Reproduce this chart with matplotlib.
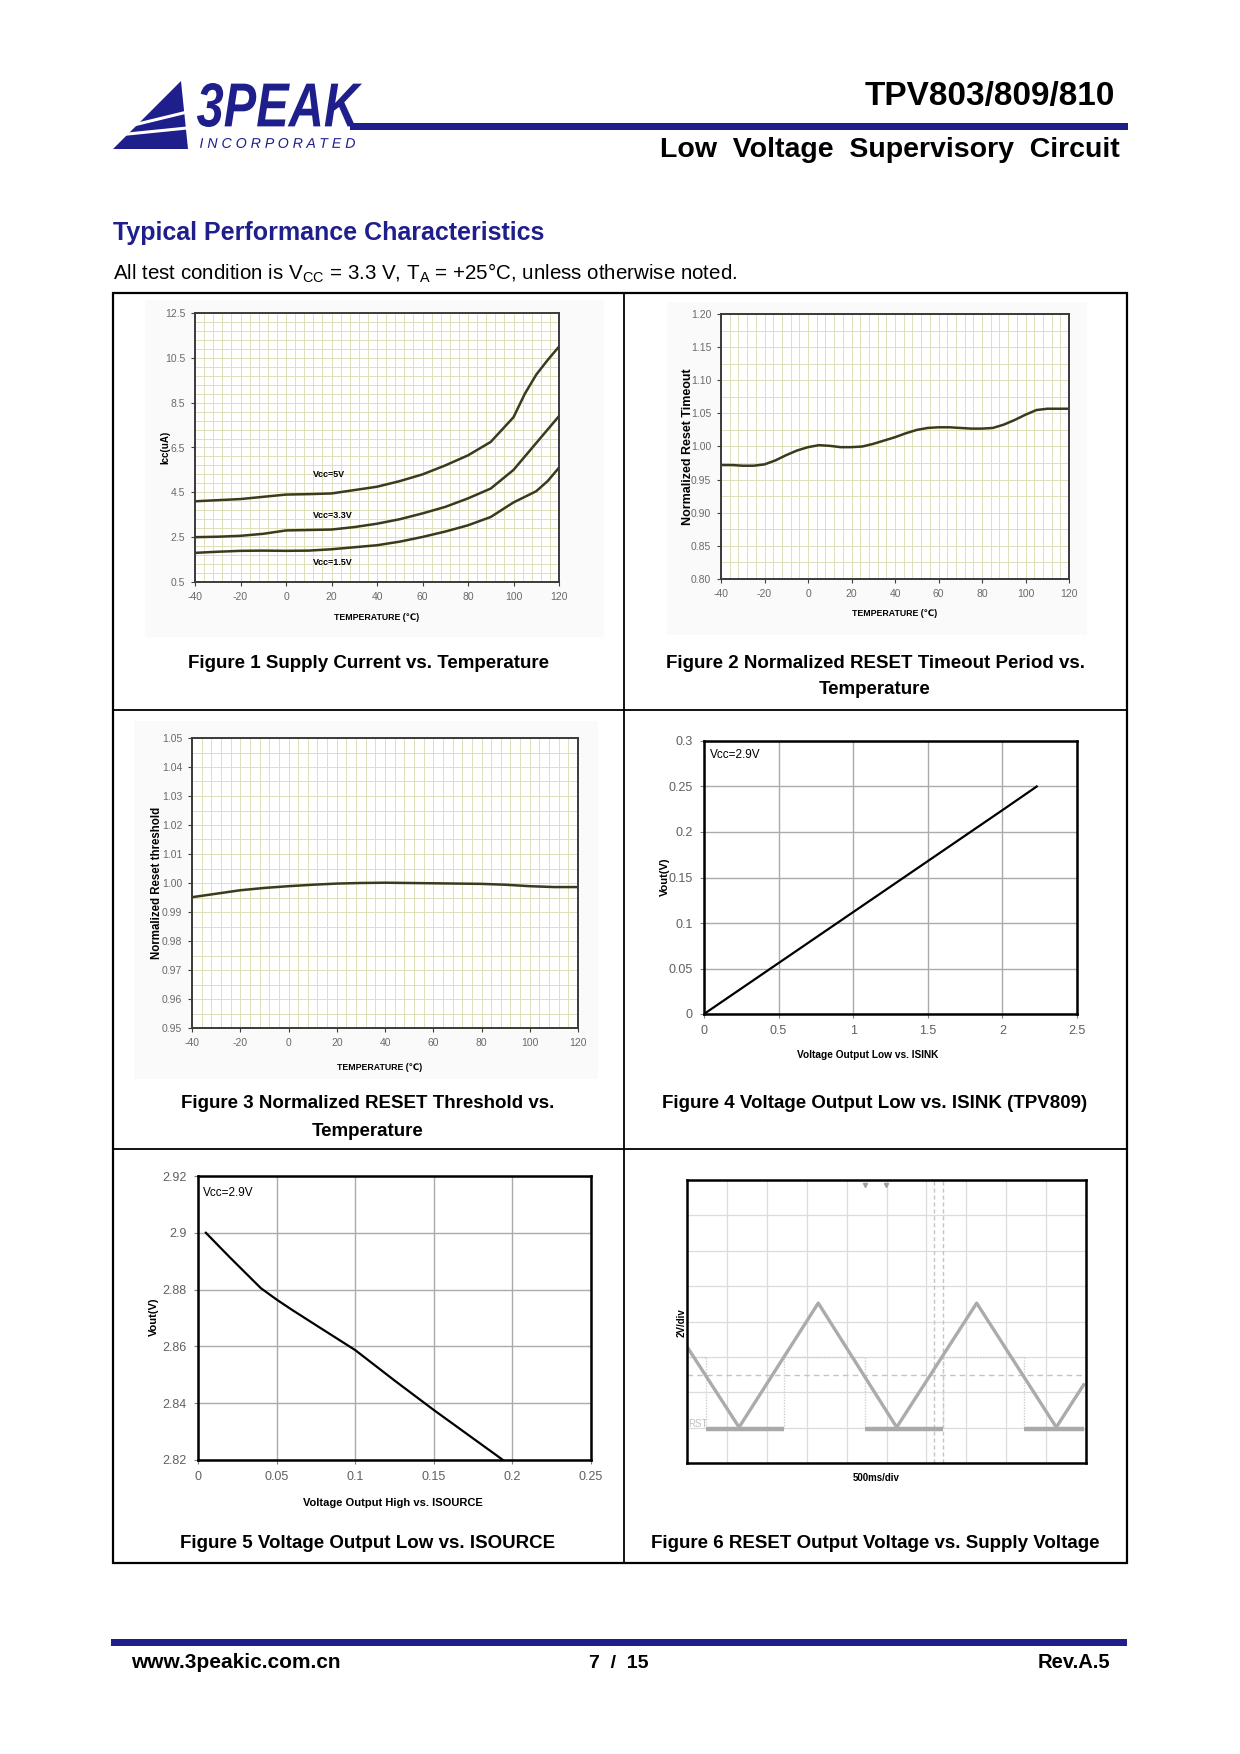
import numpy as np
import matplotlib
matplotlib.use('Agg')
import matplotlib.pyplot as plt
from matplotlib.patches import Rectangle, Polygon, PathPatch
from matplotlib.textpath import TextPath
from matplotlib.font_manager import FontProperties
from matplotlib.transforms import Affine2D
from matplotlib.ticker import FixedLocator

plt.rcParams['font.family'] = ['Liberation Sans', 'DejaVu Sans']
plt.rcParams['mathtext.fontset'] = 'custom'
plt.rcParams['mathtext.rm'] = 'Liberation Sans'
plt.rcParams['axes.unicode_minus'] = False

# ---- data ----
# Figure 1: supply current vs temperature
temp_icc = [-40, -30, -20, -10, 0, 10, 20, 30, 40, 50, 60, 70, 80, 90, 100, 105, 110, 115, 120]
icc_5v = [4.1, 4.15, 4.2, 4.3, 4.4, 4.42, 4.45, 4.6, 4.75, 5.0, 5.3, 5.7, 6.15, 6.75, 7.85, 8.9, 9.75, 10.4, 11.0]
icc_3v3 = [2.5, 2.52, 2.56, 2.65, 2.8, 2.82, 2.84, 2.95, 3.1, 3.3, 3.56, 3.85, 4.23, 4.67, 5.5, 6.1, 6.7, 7.3, 7.9]
icc_1v5 = [1.8, 1.85, 1.89, 1.9, 1.89, 1.9, 1.96, 2.05, 2.14, 2.3, 2.51, 2.75, 3.03, 3.4, 4.05, 4.3, 4.55, 5.0, 5.6]
icc_labels = ['Vcc=5V', 'Vcc=3.3V', 'Vcc=1.5V']
icc_label_pos = [(19, 5.3), (20.4, 3.48), (20.4, 1.39)]

# Figure 2: normalized reset timeout
temp_timeout = [-40, -35, -30, -25, -20, -15, -10, -5, 0, 5, 10, 15, 20, 25, 30, 35, 40,
                45, 50, 55, 60, 65, 70, 75, 80, 85, 90, 95, 100, 105, 110, 115, 120]
timeout = [0.972, 0.972, 0.971, 0.971, 0.973, 0.979, 0.987, 0.994, 0.999, 1.002, 1.001, 0.999,
           0.999, 1.000, 1.004, 1.009, 1.014, 1.020, 1.025, 1.028, 1.029, 1.029, 1.028, 1.027,
           1.027, 1.028, 1.033, 1.040, 1.048, 1.055, 1.057, 1.057, 1.057]

# Figure 3: normalized reset threshold
temp_thr = [-40, -30, -20, -10, 0, 10, 20, 30, 40, 50, 60, 70, 80, 90, 100, 110, 120]
threshold = [0.9951, 0.9963, 0.9975, 0.9983, 0.9989, 0.9994, 0.9998, 1.0000, 1.0001, 1.0000,
             0.9999, 0.9998, 0.9997, 0.9994, 0.9989, 0.9986, 0.9986]

# Figure 4: VOL vs ISINK
isink = [0, 0.5, 1.0, 1.5, 2.0, 2.23]
vol = [0, 0.056, 0.112, 0.168, 0.224, 0.25]

# Figure 5: VOH vs ISOURCE
isource = [0.005, 0.02, 0.03, 0.04, 0.05, 0.06, 0.075, 0.1, 0.125, 0.15, 0.175, 0.194]
voh = [2.900, 2.8915, 2.886, 2.8805, 2.8765, 2.8728, 2.8675, 2.8587, 2.848, 2.8376, 2.8276, 2.82]

# Figure 6: scope capture (divisions)
vcc_t = [0, 1.305, 3.29, 5.255, 7.26, 9.255, 9.94]
vcc_v = [3.29, 1.01, 4.52, 1.01, 4.52, 1.01, 2.21]
rst_t = [0, 0.47, 0.47, 2.43, 2.43, 4.46, 4.46, 6.41, 6.41, 8.44, 8.44, 9.94]
rst_v = [3.0, 3.0, 0.96, 0.96, 3.0, 3.0, 0.96, 0.96, 3.0, 3.0, 0.96, 0.96]

temp_ticks = [-40, -20, 0, 20, 40, 60, 80, 100, 120]

W, H = 1240, 1754
NAVY = '#1f1f8c'
GRIDC = '#e0dfba'
CURVE = '#3b3a1c'

fig = plt.figure(figsize=(W / 100, H / 100), dpi=100)
page = fig.add_axes([0, 0, 1, 1])
page.set_xlim(0, W)
page.set_ylim(H, 0)
page.axis('off')


def px_axes(x0, y0, x1, y1):
    return fig.add_axes([x0 / W, 1 - y1 / H, (x1 - x0) / W, (y1 - y0) / H])


def fit_text(s, box, prop, color):
    tp = TextPath((0, 0), s, size=100, prop=prop)
    bb = tp.get_extents()
    x0, y0, x1, y1 = box
    tr = Affine2D().translate(-bb.x0, -bb.y0).scale((x1 - x0) / bb.width, -(y1 - y0) / bb.height).translate(x0, y1)
    page.add_patch(PathPatch(tr.transform_path(tp), fc=color, ec='none'))


# ---- header ----
page.add_patch(Polygon([(113, 149), (188, 149), (181, 81)], closed=True, fc=NAVY, ec='none'))
page.plot([110, 195], [130.8, 110.1], color='white', lw=2.2)
page.plot([110, 195], [135.8, 127.2], color='white', lw=2.2)
fit_text('3PEAK', (197, 83, 362, 127), FontProperties(family='Liberation Sans', weight='bold', style='italic'), NAVY)
fit_text('I N C O R P O R A T E D', (200, 138, 355, 148), FontProperties(family='Liberation Sans', style='italic'), NAVY)
page.add_patch(Rectangle((350, 123), 778, 7, fc=NAVY, ec='none'))
page.text(1115, 97, 'TPV803/809/810', ha='right', va='center', fontsize=24, weight='bold')
page.text(1120, 150, 'Low  Voltage  Supervisory  Circuit', ha='right', va='center', fontsize=20.5, weight='bold')

page.text(113, 233, 'Typical Performance Characteristics', ha='left', va='center', fontsize=18,
          weight='bold', color=NAVY)
page.text(113, 273, r'All test condition is V$_{\rm CC}$ = 3.3 V, T$_{\rm A}$ = +25°C, unless otherwise noted.',
          ha='left', va='center', fontsize=14.8)

# ---- table frame ----
page.add_patch(Rectangle((113, 293), 1014, 1270, fc='none', ec='black', lw=1.6))
page.plot([624, 624], [293, 1563], color='black', lw=1.3)
page.plot([113, 1127], [710, 710], color='black', lw=1.3)
page.plot([113, 1127], [1149, 1149], color='black', lw=1.3)

# faint background of the pasted chart images
for bx in [(145, 300, 604, 637), (667, 302, 1087, 635), (134, 721, 598, 1079)]:
    page.add_patch(Rectangle((bx[0], bx[1]), bx[2] - bx[0], bx[3] - bx[1], fc='#fafafa', ec='none'))


def temp_axes(ax, ylim, yticks, yfmt, ygrid):
    ax.set_xlim(-40, 120)
    ax.set_ylim(*ylim)
    ax.set_xticks(temp_ticks)
    ax.set_yticks(yticks)
    ax.set_yticklabels([yfmt.format(v) for v in yticks])
    ax.xaxis.set_minor_locator(FixedLocator(np.arange(-40, 121, 4)))
    ax.yaxis.set_minor_locator(FixedLocator(ygrid))
    ax.grid(which='both', color=GRIDC, lw=0.7)
    ax.tick_params(which='minor', length=0)
    ax.tick_params(which='major', length=3, width=0.8, color='#404040', labelsize=7.5,
                   labelcolor='#6a6a6a', pad=4)
    for s in ax.spines.values():
        s.set_color('#3a3a3a')
        s.set_linewidth(1.4)
    ax.set_axisbelow(True)


# ---- Figure 1 ----
ax1 = px_axes(195, 313, 559, 582)
temp_axes(ax1, (0.5, 12.5), [0.5, 2.5, 4.5, 6.5, 8.5, 10.5, 12.5], '{:.1f}', np.arange(0.5, 12.6, 0.4))
for series in (icc_5v, icc_3v3, icc_1v5):
    ax1.plot(temp_icc, series, color=CURVE, lw=1.8)
for lab, (lx, ly) in zip(icc_labels, icc_label_pos):
    ax1.text(lx, ly, lab, ha='center', va='center', fontsize=6.5, weight='bold')
page.text(165, 447, 'Icc(uA)', rotation=90, ha='center', va='center', fontsize=7, weight='bold')
page.text(377, 618, 'TEMPERATURE (℃)', ha='center', va='center', fontsize=6.3, weight='bold')

# ---- Figure 2 ----
ax2 = px_axes(721, 314, 1069, 579)
temp_axes(ax2, (0.80, 1.20), [0.80, 0.85, 0.90, 0.95, 1.00, 1.05, 1.10, 1.15, 1.20], '{:.2f}',
          np.arange(0.80, 1.2001, 0.025))
ax2.plot(temp_timeout, timeout, color=CURVE, lw=1.8)
page.text(688, 447, 'Normalized Reset Timeout', rotation=90, ha='center', va='center', fontsize=9, weight='bold')
page.text(895, 613, 'TEMPERATURE (℃)', ha='center', va='center', fontsize=6.3, weight='bold')

# ---- Figure 3 ----
ax3 = px_axes(192, 738, 578, 1028)
temp_axes(ax3, (0.95, 1.05), list(np.round(np.arange(0.95, 1.0501, 0.01), 2)), '{:.2f}',
          np.arange(0.95, 1.0501, 0.005))
ax3.plot(temp_thr, threshold, color=CURVE, lw=1.8)
page.text(157, 883, 'Normalized Reset threshold', rotation=90, ha='center', va='center', fontsize=8.3, weight='bold')
page.text(380, 1068, 'TEMPERATURE (℃)', ha='center', va='center', fontsize=6.3, weight='bold')


def io_axes(ax, xticks, xlabels, yticks, ylabels):
    ax.set_xlim(xticks[0], xticks[-1])
    ax.set_ylim(yticks[0], yticks[-1])
    ax.set_xticks(xticks)
    ax.set_xticklabels(xlabels)
    ax.set_yticks(yticks)
    ax.set_yticklabels(ylabels)
    ax.grid(color='#ababab', lw=1.0)
    ax.tick_params(length=3, width=0.8, color='#808080', labelsize=9, labelcolor='#606060', pad=5)
    for s in ax.spines.values():
        s.set_color('black')
        s.set_linewidth(1.8)
    ax.set_axisbelow(True)


# ---- Figure 4 ----
ax4 = px_axes(704, 741, 1077, 1014)
io_axes(ax4, [0, 0.5, 1.0, 1.5, 2.0, 2.5], ['0', '0.5', '1', '1.5', '2', '2.5'],
        [0, 0.05, 0.1, 0.15, 0.2, 0.25, 0.3], ['0', '0.05', '0.1', '0.15', '0.2', '0.25', '0.3'])
ax4.plot(isink, vol, color='black', lw=1.6)
ax4.text(0.016, 0.95, 'Vcc=2.9V', transform=ax4.transAxes, ha='left', va='center', fontsize=8.5)
page.text(665, 877, 'Vout(V)', rotation=90, ha='center', va='center', fontsize=8, weight='bold')
page.text(868, 1055, 'Voltage Output Low vs. ISINK', ha='center', va='center', fontsize=7.3, weight='bold')

# ---- Figure 5 ----
ax5 = px_axes(198, 1176, 591, 1460)
io_axes(ax5, [0, 0.05, 0.1, 0.15, 0.2, 0.25], ['0', '0.05', '0.1', '0.15', '0.2', '0.25'],
        [2.82, 2.84, 2.86, 2.88, 2.90, 2.92], ['2.82', '2.84', '2.86', '2.88', '2.9', '2.92'])
ax5.plot(isource, voh, color='black', lw=1.6)
ax5.text(0.013, 0.94, 'Vcc=2.9V', transform=ax5.transAxes, ha='left', va='center', fontsize=8.5)
page.text(154, 1317, 'Vout(V)', rotation=90, ha='center', va='center', fontsize=8, weight='bold')
page.text(393, 1503, 'Voltage Output High vs. ISOURCE', ha='center', va='center', fontsize=8, weight='bold')

# ---- Figure 6 ----
ax6 = px_axes(687, 1180, 1086, 1463)
ax6.set_xlim(0, 10)
ax6.set_ylim(0, 8)
ax6.set_xticks(range(11))
ax6.set_yticks(range(9))
ax6.tick_params(length=0, labelbottom=False, labelleft=False)
ax6.grid(color='#dcdcdc', lw=0.9)
ax6.axvline(6.2, color='#c4c4c4', lw=1.0, ls=(0, (3, 2)))
ax6.axvline(6.41, color='#c4c4c4', lw=1.0, ls=(0, (3, 2)))
ax6.axhline(2.49, color='#c4c4c4', lw=1.0, ls=(0, (4, 3)))
for s in ax6.spines.values():
    s.set_color('black')
    s.set_linewidth(1.8)
ax6.set_axisbelow(True)
rst_arr = np.array(rst_v)
ax6.plot(rst_t, rst_v, color='#cfcfcf', lw=1.0, ls=(0, (1, 1)))
ax6.plot(rst_t, np.where(rst_arr < 2, rst_arr, np.nan), color='#a9a9a9', lw=3.2, solid_capstyle='butt')
ax6.plot(vcc_t, vcc_v, color='#ababab', lw=2.4)
ax6.text(0.03, 0.96, 'RST', ha='left', va='bottom', fontsize=7, color='#c0c0c0')
ax6.plot([4.46, 4.99], [7.85, 7.85], ls='none', marker='v', ms=3, color='#a0a0a0')
page.text(682, 1323, '2V/div', rotation=90, ha='center', va='center', fontsize=7, weight='bold')
page.text(876, 1478, '500ms/div', ha='center', va='center', fontsize=7, weight='bold')

# ---- captions ----
cap = dict(ha='center', va='center', fontsize=13.5, weight='bold')
page.text(368, 663, 'Figure 1 Supply Current vs. Temperature', **cap)
page.text(875, 663, 'Figure 2 Normalized RESET Timeout Period vs.', **cap)
page.text(875, 690, 'Temperature', **cap)
page.text(368, 1104, 'Figure 3 Normalized RESET Threshold vs.', **cap)
page.text(368, 1131, 'Temperature', **cap)
page.text(875, 1104, 'Figure 4 Voltage Output Low vs. ISINK (TPV809)', **cap)
page.text(368, 1544, 'Figure 5 Voltage Output Low vs. ISOURCE', **cap)
page.text(875, 1544, 'Figure 6 RESET Output Voltage vs. Supply Voltage', **cap)

# ---- footer ----
page.add_patch(Rectangle((111, 1639), 1016, 7, fc=NAVY, ec='none'))
page.text(131, 1663, 'www.3peakic.com.cn', ha='left', va='center', fontsize=15, weight='bold')
page.text(619, 1663, '7  /  15', ha='center', va='center', fontsize=14, weight='bold')
page.text(1110, 1663, 'Rev.A.5', ha='right', va='center', fontsize=14.5, weight='bold')

fig.savefig('out.png', dpi=100)
